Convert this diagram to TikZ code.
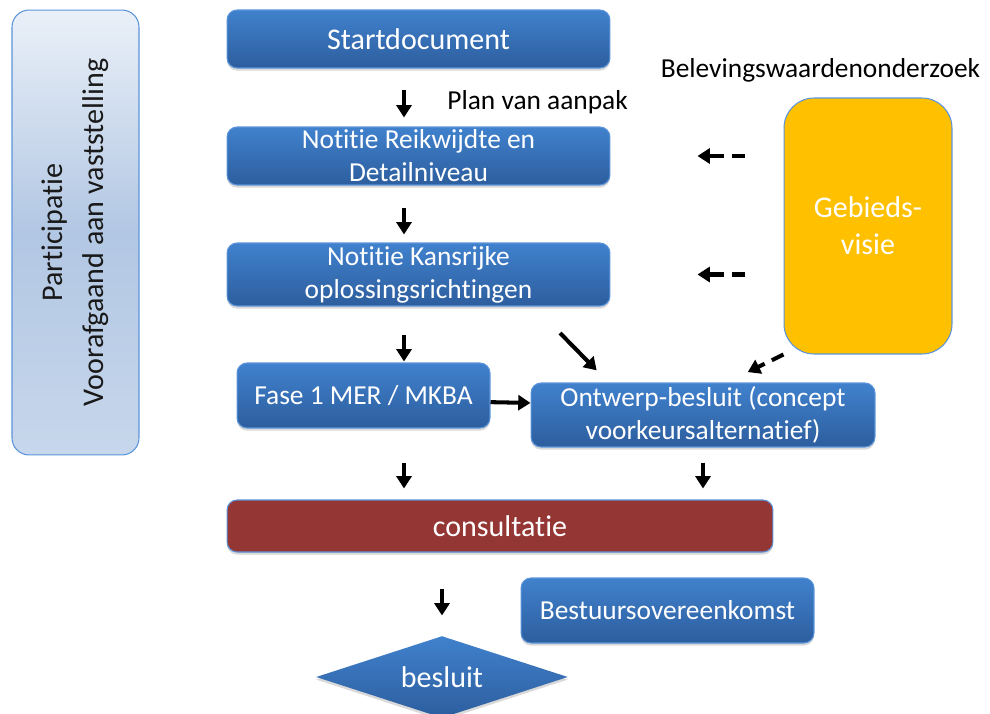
\documentclass[tikz,border=0pt]{standalone}
\usepackage{fontspec}
\setmainfont{Carlito}[RawFeature={-liga;-clig;-calt;-dlig}]
\usetikzlibrary{shapes.geometric,arrows.meta,shadows}

\definecolor{boxtop}{RGB}{64,129,205}
\definecolor{boxbot}{RGB}{45,94,158}
\definecolor{boxedge}{RGB}{90,148,218}
\definecolor{consred}{RGB}{148,54,52}
\definecolor{gebiedgeel}{RGB}{255,192,0}
\definecolor{parttop}{RGB}{234,240,248}
\definecolor{partmid}{RGB}{178,199,227}
\definecolor{partbot}{RGB}{199,215,236}

\newcommand\grotetekst{\fontsize{17.1pt}{21pt}\selectfont}
\newcommand\tekst{\fontsize{15.6pt}{18.8pt}\selectfont}

\begin{document}
\begin{tikzpicture}[x=0.02cm, y=-0.02cm,
    blok/.style={draw=boxedge, line width=0.6pt, rounded corners=0.2cm,
      top color=boxtop, bottom color=boxbot, text=white, align=center,
      inner sep=0pt, font=\tekst,
      drop shadow={opacity=0.3, shadow xshift=0pt, shadow yshift=-1.5pt}},
    pijl/.style={line width=2.3pt, -{Triangle[length=7pt, width=8.5pt]}},
    stippijl/.style={pijl, dash pattern=on 0.26cm off 0.16cm on 2cm}]
    \useasboundingbox (0,0) rectangle (990,713);

    \node[draw=boxedge, line width=0.6pt, rounded corners=0.34cm, top color=parttop,
      bottom color=partbot, middle color=partmid, text=black!90, font=\grotetekst,
      minimum width=2.54cm, minimum height=8.9cm, inner sep=0pt] (part) at (75.5,232.5)
      {\rotatebox{90}{\begin{tabular}{@{}c@{}}Participatie\\[2.5pt]Voorafgaand aan vaststelling\end{tabular}}};

    \node[blok, font=\grotetekst, minimum width=7.66cm, minimum height=1.16cm] (start) at (418.5,39) {Startdocument};
    \node[blok, minimum width=7.66cm, minimum height=1.16cm] (nrd) at (418.5,156) {Notitie Reikwijdte en\\Detailniveau};
    \node[blok, minimum width=7.66cm, minimum height=1.26cm] (nkr) at (418.5,274.5) {Notitie Kansrijke\\oplossingsrichtingen};
    \node[blok, minimum width=5.06cm, minimum height=1.3cm] (fase) at (363.5,395.5) {Fase 1 MER / MKBA};
    \node[blok, minimum width=6.88cm, minimum height=1.28cm] (ontwerp) at (703,415) {Ontwerp-besluit (concept\\voorkeursalternatief)};
    \node[blok, top color=consred, bottom color=consred, font=\grotetekst,
      minimum width=10.92cm, minimum height=1.04cm] (cons) at (500,526) {consultatie};
    \node[blok, minimum width=5.86cm, minimum height=1.3cm] (bestuur) at (667.5,610.5) {Bestuursovereenkomst};
    \node[blok, diamond, aspect=3, draw=none, sharp corners, font=\grotetekst,
      minimum width=5.04cm, minimum height=1.64cm] (besluit) at (442,677) {besluit};

    \node[draw=boxedge, line width=0.6pt, rounded corners=0.6cm, fill=gebiedgeel,
      text=white, align=center, font=\grotetekst, minimum width=3.36cm,
      minimum height=5.12cm] (gebied) at (868,226) {Gebieds-\\visie};

    \node[anchor=base west, inner sep=0pt, font=\tekst] (plan) at (447,110) {Plan van aanpak};
    \node[anchor=base, inner sep=0pt, font=\tekst] (beleving) at (820.5,78) {Belevingswaardenonderzoek};

    % pijlen
    \coordinate (midden) at (404,0);
    \coordinate (k1) at (560,333);
    \draw[pijl, shorten <=0.42cm, shorten >=0.18cm] (start.south -| midden) -- (nrd.north -| midden);
    \draw[pijl, shorten <=0.44cm, shorten >=0.16cm] (nrd.south -| midden) -- (nkr.north -| midden);
    \draw[pijl, shorten <=0.56cm, shorten >=0.02cm] (nkr.south -| midden) -- (fase.north -| midden);
    \draw[pijl, shorten >=0.34cm] (k1) -- (ontwerp.161);
    \draw[pijl] (fase.-3) -- (ontwerp.176);
    \draw[pijl, shorten <=0.68cm, shorten >=0.22cm] (fase.south -| midden) -- (cons.north -| midden);
    \draw[pijl, shorten <=0.3cm, shorten >=0.22cm] (ontwerp.south) -- (cons.north -| ontwerp.south);
    \draw[pijl, shorten <=0.72cm, shorten >=0.4cm] (cons.south -| besluit.north) -- (besluit.north);

    % gebiedsvisie
    \draw[stippijl, shorten <=0.78cm, shorten >=1.74cm] (gebied.west |- nrd.east) -- (nrd.east);
    \draw[stippijl, shorten <=0.78cm, shorten >=1.74cm] (gebied.west |- nkr.east) -- (nkr.east);
    \draw[stippijl, shorten >=0.47cm] (gebied.south west) -- (ontwerp.54);
\end{tikzpicture}
\end{document}
